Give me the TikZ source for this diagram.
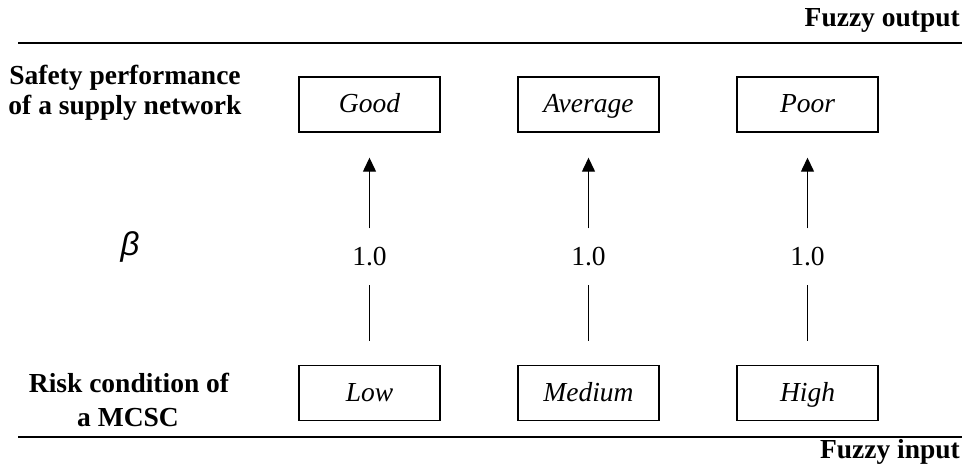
\documentclass[tikz,border=0pt]{standalone}
\usepackage{fontspec}
\setmainfont{Liberation Serif}
\newfontfamily\greekfont{Liberation Sans}
\usetikzlibrary{arrows.meta}
\begin{document}
\begin{tikzpicture}[x=1pt,y=1pt,
  every node/.style={font=\fontsize{27.5}{33}\selectfont, inner sep=0pt},
  grade/.style={draw, line width=1.4pt, minimum width=141pt, minimum height=55pt,
                text height=23pt, text depth=6pt,
                font=\fontsize{27.5}{33}\selectfont\itshape},
  heading/.style={font=\fontsize{27.5}{33}\selectfont\bfseries},
  rule/.style={line width=2.4pt},
  weight/.style={minimum height=56pt, text height=19pt, text depth=0pt},
  link/.style={line width=1.3pt},
  uplink/.style={link, -{Triangle[length=14pt, width=13pt]}}]
  \useasboundingbox (0,0) rectangle (969,471);

  % separators between output and input layers
  \coordinate (tl) at (18,428);
  \coordinate (tr) at (962,428);
  \coordinate (bl) at (18,34);
  \coordinate (br) at (962,34);
  \draw[rule] (tl) -- (tr);
  \draw[rule] (bl) -- (br);
  \node[heading, anchor=base east] (fout) at (960,444) {Fuzzy output};
  \node[heading, anchor=base east] (fin) at (960,12) {Fuzzy input};

  % row captions
  \node[heading, anchor=base] (sp1) at (125,386) {Safety performance};
  \node[heading, anchor=base] (sp2) at (125,356) {of a supply network};
  \node[heading, anchor=base] (rc1) at (129,78) {Risk condition of};
  \node[heading, anchor=base] (rc2) at (128,44) {a MCSC};
  \node (beta) at (130,224) {\fontsize{33}{35}\selectfont\greekfont\itshape β};

  % output grades
  \node[grade] (good) at (369.5,366.5) {Good};
  \node[grade] (avg)  at (588.5,366.5) {Average};
  \node[grade] (poor) at (807.5,366.5) {Poor};

  % input grades
  \node[grade] (low)  at (369.5,78) {Low};
  \node[grade] (med)  at (588.5,78) {Medium};
  \node[grade] (high) at (807.5,78) {High};

  % belief degrees
  \node[weight] (w1) at (369.5,214.5) {1.0};
  \node[weight] (w2) at (588.5,214.5) {1.0};
  \node[weight] (w3) at (807.5,214.5) {1.0};

  \foreach \lo/\w/\hi in {low/w1/good, med/w2/avg, high/w3/poor}{
    \draw[link] ([yshift=24pt]\lo.north) -- (\w.south);
    \draw[uplink] (\w.north) -- ([yshift=-25pt]\hi.south);
  }
\end{tikzpicture}
\end{document}
